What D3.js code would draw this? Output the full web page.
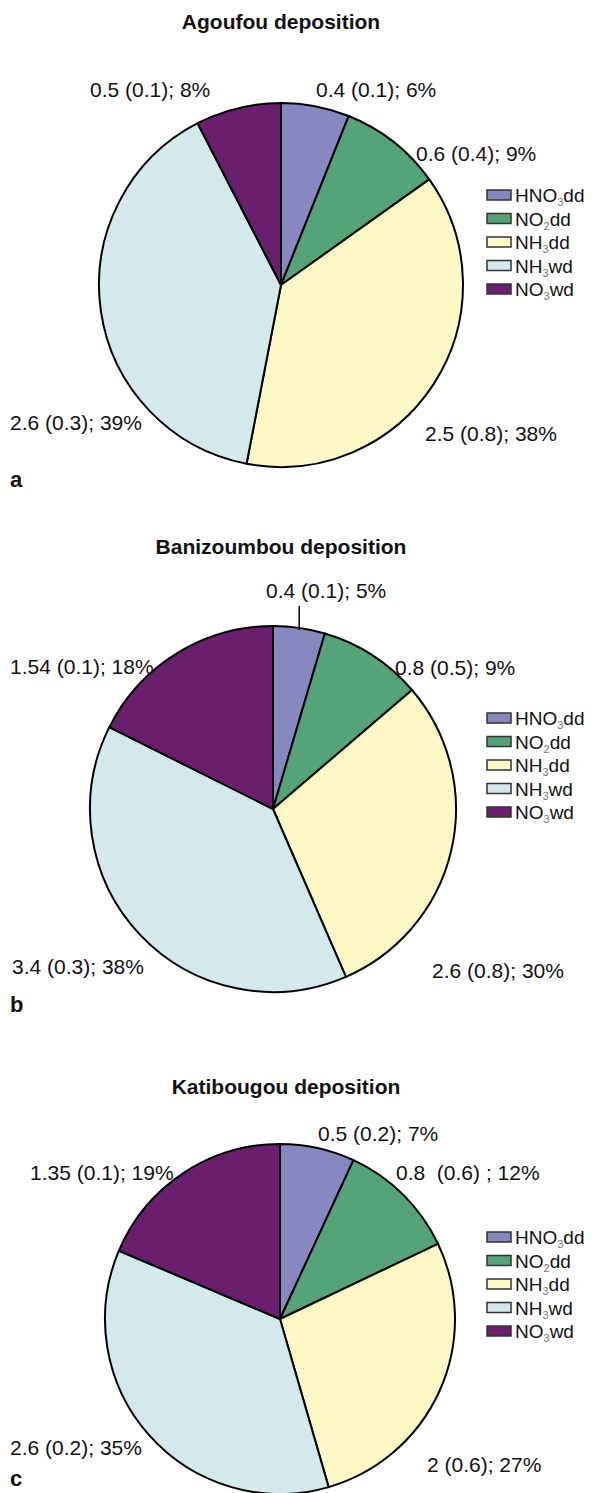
<!DOCTYPE html>
<html><head><meta charset="utf-8">
<script src="https://cdn.jsdelivr.net/npm/d3@7"></script>
<style>body{margin:0;background:#fff}svg{display:block}</style>
</head><body>
<svg id="chart" width="593" height="1493"></svg>
<script>
// ---- data ----
const categories = ["HNO3dd", "NO2dd", "NH3dd", "NH3wd", "NO3wd"];
const legendMain = ["HNO", "NO", "NH", "NH", "NO"];
const legendSub = ["3", "2", "3", "3", "3"];
const legendTail = ["dd", "dd", "dd", "wd", "wd"];
const colors = ["#8788bf", "#55a477", "#fef8c5", "#d3e9eb", "#6a1f6e"];

const sites = ["Agoufou", "Banizoumbou", "Katibougou"];
const panelLetters = ["a", "b", "c"];
const agoufouValues = [0.4, 0.6, 2.5, 2.6, 0.5];
const banizoumbouValues = [0.4, 0.8, 2.6, 3.4, 1.54];
const katibougouValues = [0.5, 0.8, 2.0, 2.6, 1.35];
const agoufouLabels = ["0.4 (0.1); 6%", "0.6 (0.4); 9%", "2.5 (0.8); 38%", "2.6 (0.3); 39%", "0.5 (0.1); 8%"];
const banizoumbouLabels = ["0.4 (0.1); 5%", "0.8 (0.5); 9%", "2.6 (0.8); 30%", "3.4 (0.3); 38%", "1.54 (0.1); 18%"];
const katibougouLabels = ["0.5 (0.2); 7%", "0.8  (0.6) ; 12%", "2 (0.6); 27%", "2.6 (0.2); 35%", "1.35 (0.1); 19%"];

// ---- layout (not data) ----
const panels = [
  {cx: 281, cy: 285, r: 182, titleX: 281, titleY: 29, letterY: 487, legendY: 195,
   labelPos: [[316, 97], [416, 161], [425, 441], [10, 430], [90, 97]], leader: false},
  {cx: 273, cy: 809, r: 183, titleX: 281, titleY: 554, letterY: 1012, legendY: 718,
   labelPos: [[266, 598], [395, 675], [432, 978], [12, 974], [10, 674]], leader: true},
  {cx: 280, cy: 1319, r: 175, titleX: 286, titleY: 1094, letterY: 1486, legendY: 1237,
   labelPos: [[318, 1141], [396, 1180], [427, 1472], [10, 1455], [30, 1180]], leader: false}
];
const valuesBySite = [agoufouValues, banizoumbouValues, katibougouValues];
const labelsBySite = [agoufouLabels, banizoumbouLabels, katibougouLabels];

const svg = d3.select("#chart");
const font = "'Liberation Sans', Arial, Helvetica, sans-serif";
const color = d3.scaleOrdinal().domain(categories).range(colors);
const pie = d3.pie().sort(null).value(d => d.v);

panels.forEach((p, i) => {
  const g = svg.append("g");
  const data = categories.map((c, k) => ({c, v: valuesBySite[i][k]}));
  const arcs = pie(data);
  const arc = d3.arc().innerRadius(0).outerRadius(p.r);

  g.append("text").attr("x", p.titleX).attr("y", p.titleY)
    .attr("text-anchor", "middle").attr("font-family", font)
    .attr("font-weight", "bold").attr("font-size", 21).attr("fill", "#111")
    .text(sites[i] + " deposition");

  const pg = g.append("g").attr("transform", `translate(${p.cx},${p.cy})`);
  pg.selectAll("path").data(arcs).join("path")
    .attr("d", arc).attr("fill", d => color(d.data.c))
    .attr("stroke", "#000").attr("stroke-width", 2).attr("stroke-linejoin", "round");

  // labels
  g.selectAll("text.lab").data(arcs).join("text").attr("class", "lab")
    .attr("x", (d, k) => p.labelPos[k][0]).attr("y", (d, k) => p.labelPos[k][1])
    .attr("font-family", font).attr("font-size", 21).attr("fill", "#111")
    .style("white-space", "pre")
    .text((d, k) => labelsBySite[i][k]);

  if (p.leader) {
    const a0 = arcs[0];
    const mid = (a0.startAngle + a0.endAngle) / 2;
    const x = p.cx + Math.sin(mid) * p.r;
    g.append("line").attr("x1", x).attr("x2", x)
      .attr("y1", p.labelPos[0][1] + 8).attr("y2", p.cy - Math.cos(mid) * p.r + 2)
      .attr("stroke", "#000").attr("stroke-width", 1.5);
  }

  // legend
  const lg = g.append("g").attr("transform", `translate(487,${p.legendY})`);
  categories.forEach((c, k) => {
    const row = lg.append("g").attr("transform", `translate(0,${k * 23.5})`);
    row.append("rect").attr("x", 0).attr("y", -5).attr("width", 24).attr("height", 10)
      .attr("fill", color(c)).attr("stroke", "#333").attr("stroke-width", 1.5);
    const t = row.append("text").attr("x", 28).attr("y", 7)
      .attr("font-family", font).attr("font-size", 19).attr("fill", "#111");
    t.append("tspan").text(legendMain[k]);
    t.append("tspan").attr("font-size", 11).attr("dy", 4).attr("fill", "#777").text(legendSub[k]);
    t.append("tspan").attr("dy", -4).text(legendTail[k]);
  });

  g.append("text").attr("x", 10).attr("y", p.letterY)
    .attr("font-family", font).attr("font-weight", "bold").attr("font-size", 22)
    .attr("fill", "#111").text(panelLetters[i]);
});
</script>
</body></html>
